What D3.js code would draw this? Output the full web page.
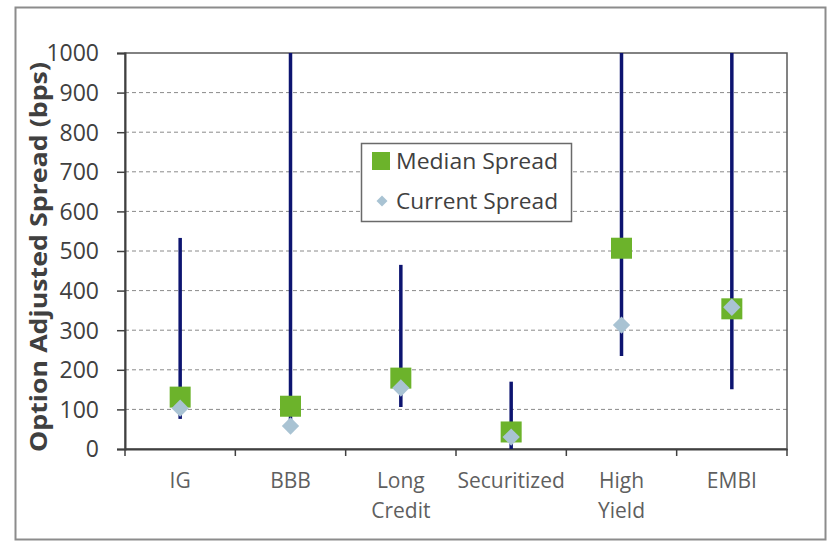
<!DOCTYPE html>
<html>
<head>
<meta charset="utf-8">
<script src="https://cdn.jsdelivr.net/npm/d3@7"></script>
<style>
  body { margin: 0; background: #ffffff; }
  svg { display: block; }
</style>
</head>
<body>
<svg id="chart" width="828" height="545"></svg>
<script>
const categories = [["IG"], ["BBB"], ["Long", "Credit"], ["Securitized"], ["High", "Yield"], ["EMBI"]];
const rangeLow   = [76, 50, 106, 0, 235, 151];
const rangeHigh  = [533, 1000, 465, 170, 1000, 1000];
const medianSpread  = [131, 108, 179, 43, 507, 354];
const currentSpread = [103, 58, 154, 30, 313, 358];
const yTicks = [0, 100, 200, 300, 400, 500, 600, 700, 800, 900, 1000];
const legendLabels = ["Median Spread", "Current Spread"];

const svg = d3.select("#chart");
const font = "'Open Sans', sans-serif";

// outer frame
svg.append("rect").attr("x", 15.5).attr("y", 7.5).attr("width", 810).attr("height", 532)
  .attr("fill", "#ffffff").attr("stroke", "#8c8c8c").attr("stroke-width", 2);

const L = 125, R = 787, T = 53, B = 449;
const x = d3.scaleBand().domain(d3.range(categories.length)).range([L, R]);
const y = d3.scaleLinear().domain([0, 1000]).range([B, T]);

// gridlines
svg.append("g").selectAll("line").data(yTicks.filter(t => t > 0 && t < 1000)).join("line")
  .attr("x1", L).attr("x2", R).attr("y1", d => y(d)).attr("y2", d => y(d))
  .attr("stroke", "#8a8a8a").attr("stroke-width", 1).attr("stroke-dasharray", "4,3");

// plot border
svg.append("rect").attr("x", L).attr("y", T).attr("width", R - L).attr("height", B - T)
  .attr("fill", "none").attr("stroke", "#5a5a5a").attr("stroke-width", 1.5);

// y axis
const yAxis = d3.axisLeft(y).tickValues(yTicks).tickSize(8).tickPadding(18).tickFormat(d3.format("d"));
const gy = svg.append("g").attr("transform", `translate(${L},0)`).call(yAxis);
gy.select(".domain").attr("stroke", "#404040").attr("stroke-width", 2);
gy.selectAll(".tick line").attr("stroke", "#404040").attr("stroke-width", 1.5);
gy.selectAll(".tick text").attr("font-family", font).attr("font-size", 23).attr("fill", "#404040")
  .attr("dy", "0.34em");

// x axis
const xAxis = d3.axisBottom(x).tickSize(0).tickFormat(() => "");
const gx = svg.append("g").attr("transform", `translate(0,${B})`).call(xAxis);
gx.select(".domain").attr("stroke", "#404040").attr("stroke-width", 2);
// category boundary ticks
svg.append("g").selectAll("line").data(d3.range(categories.length + 1)).join("line")
  .attr("x1", i => i < categories.length ? x(i) : R).attr("x2", i => i < categories.length ? x(i) : R)
  .attr("y1", B).attr("y2", B + 7).attr("stroke", "#404040").attr("stroke-width", 1.5);

// category labels
const labelG = svg.append("g");
categories.forEach((lines, i) => {
  const t = labelG.append("text").attr("x", x(i) + x.bandwidth() / 2).attr("y", 488)
    .attr("text-anchor", "middle").attr("font-family", font).attr("font-size", 21).attr("fill", "#5f5f5f");
  lines.forEach((ln, j) => t.append("tspan").attr("x", x(i) + x.bandwidth() / 2).attr("dy", j === 0 ? 0 : 30).text(ln));
});

// y axis title
svg.append("text").attr("transform", `translate(47,${(T + B) / 2 + 6}) rotate(-90)`)
  .attr("text-anchor", "middle").attr("font-family", font).attr("font-size", 23).attr("font-weight", "bold")
  .attr("fill", "#404040").attr("textLength", 390).attr("lengthAdjust", "spacingAndGlyphs")
  .text("Option Adjusted Spread (bps)");

const cx = i => x(i) + x.bandwidth() / 2;

// range lines
svg.append("g").selectAll("line").data(categories.map((c, i) => i)).join("line")
  .attr("x1", cx).attr("x2", cx).attr("y1", i => y(rangeLow[i])).attr("y2", i => y(rangeHigh[i]))
  .attr("stroke", "#0d1470").attr("stroke-width", 3.5);

// median squares
const sq = 21;
svg.append("g").selectAll("rect").data(medianSpread).join("rect")
  .attr("x", (d, i) => cx(i) - sq / 2).attr("y", d => y(d) - sq / 2)
  .attr("width", sq).attr("height", sq).attr("fill", "#6cb32b");

// current diamonds
const diamond = d3.symbol().type(d3.symbolSquare).size(150);
svg.append("g").selectAll("path").data(currentSpread).join("path")
  .attr("d", diamond).attr("transform", (d, i) => `translate(${cx(i)},${y(d)}) rotate(45)`)
  .attr("fill", "#a9c3d3");

// legend
const lg = svg.append("g");
lg.append("rect").attr("x", 361.5).attr("y", 143.5).attr("width", 210).attr("height", 78)
  .attr("fill", "#ffffff").attr("stroke", "#6a6a6a").attr("stroke-width", 1.5);
lg.append("rect").attr("x", 372).attr("y", 152).attr("width", 18).attr("height", 18).attr("fill", "#6cb32b");
lg.append("path").attr("d", d3.symbol().type(d3.symbolSquare).size(60))
  .attr("transform", "translate(382,201) rotate(45)").attr("fill", "#a9c3d3");
lg.selectAll("text").data(legendLabels).join("text")
  .attr("x", 396).attr("y", (d, i) => 169 + i * 40)
  .attr("font-family", font).attr("font-size", 22).attr("fill", "#404040")
  .attr("textLength", 162).attr("lengthAdjust", "spacingAndGlyphs").text(d => d);
</script>
</body>
</html>
